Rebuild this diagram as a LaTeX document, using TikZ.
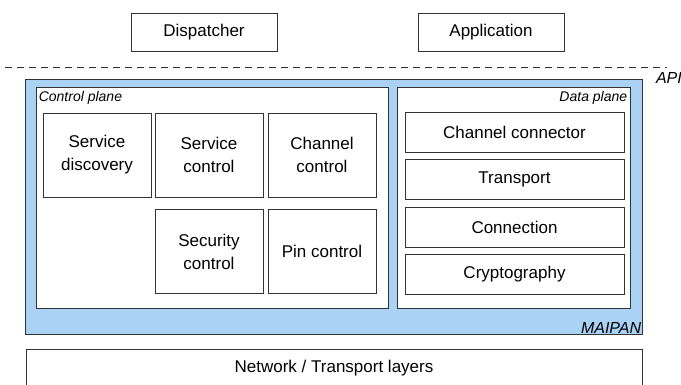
\documentclass[tikz,border=0pt]{standalone}
\usepackage{fontspec}
\setmainfont{Liberation Sans}
\definecolor{maipanblue}{HTML}{A9D2F5}
\definecolor{edgegray}{HTML}{333333}
\tikzset{
    box/.style={draw=edgegray,fill=white,line width=0.8pt,align=center,
        font=\fontsize{17}{23}\selectfont},
    tag/.style={inner sep=1pt,font=\fontsize{14}{16}\selectfont\itshape},
}
\begin{document}
\begin{tikzpicture}[x=1pt,y=-1pt]
    \useasboundingbox (0,0) rectangle (681,385);
    \clip (0,0) rectangle (681,385);
    % upper layer
    \node[box,minimum width=146,minimum height=38] (D) at (204,32) {Dispatcher};
    \node[box,minimum width=146,minimum height=38] (A) at (491,32) {Application};
    \draw[edgegray,line width=0.8pt,dash pattern=on 7pt off 5pt] (5,67) -- (667,67);
    \node[tag,font=\fontsize{16}{18}\selectfont\itshape,anchor=east] (API) at (683,78) {API};
    % MAIPAN
    \node[box,fill=maipanblue,minimum width=617,minimum height=255] (M) at (333.5,206.5) {};
    \node[tag,font=\fontsize{16}{18}\selectfont\itshape,anchor=south east] (ML) at (M.south east) {MAIPAN};
    \node[box,minimum width=352,minimum height=221] (C) at (212,197.5) {};
    \node[tag,anchor=north west] (CL) at ([shift={(2,4)}]C.north west) {Control plane};
    \node[box,minimum width=233,minimum height=221] (P) at (513.5,197.5) {};
    \node[tag,anchor=north east] (PL) at ([shift={(-2,4)}]P.north east) {Data plane};
    % control plane
    \node[box,minimum width=108,minimum height=84] (SD) at (97,155) {Service\\discovery};
    \node[box,minimum width=108,minimum height=84] (SC) at (209,155) {Service\\control};
    \node[box,minimum width=108,minimum height=84] (CC) at (322,155) {Channel\\control};
    \node[box,minimum width=108,minimum height=84] (SE) at (209,251.5) {Security\\control};
    \node[box,minimum width=108,minimum height=84] (PC) at (322,251.5) {Pin control};
    % data plane
    \node[box,minimum width=219,minimum height=40] (CN) at (514.5,132) {Channel connector};
    \node[box,minimum width=219,minimum height=40] (T) at (514.5,179) {Transport};
    \node[box,minimum width=219,minimum height=40] (CO) at (514.5,227) {Connection};
    \node[box,minimum width=219,minimum height=40] (CR) at (514.5,274) {Cryptography};
    % lower layer
    \node[box,minimum width=616,minimum height=60,anchor=north] (N) at (334,349) {};
    \node[font=\fontsize{17}{22}\selectfont] (NL) at (334,368) {Network / Transport layers};
\end{tikzpicture}
\end{document}
